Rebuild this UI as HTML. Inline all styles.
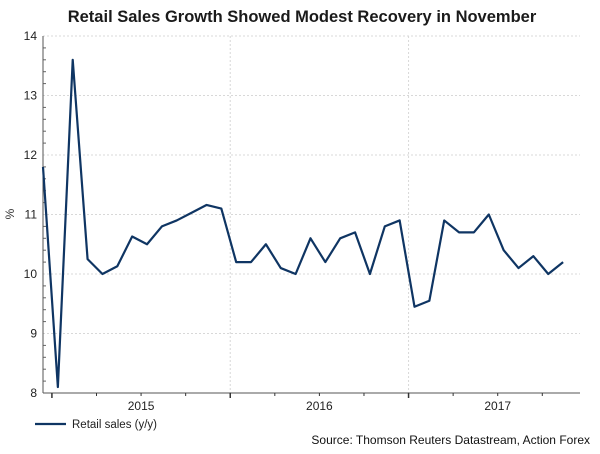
<!DOCTYPE html>
<html><head><meta charset="utf-8"><style>
body{margin:0;background:#fff;width:600px;height:449px;overflow:hidden;font-family:"Liberation Sans",Arial,sans-serif}
</style></head><body>
<svg width="600" height="449" viewBox="0 0 600 449" xmlns="http://www.w3.org/2000/svg">
<text x="302" y="22" text-anchor="middle" font-size="16.5" font-weight="bold" fill="#1a1a1a">Retail Sales Growth Showed Modest Recovery in November</text>
<g id="grid"></g>
<g id="axes"></g>
<text x="14" y="214" font-size="12" fill="#333" transform="rotate(-90 14 214)" text-anchor="middle">%</text>
<g id="series"></g>
<line x1="35" y1="424" x2="66" y2="424" stroke="#0f3563" stroke-width="2.2"/>
<text x="72" y="428" font-size="11.5" fill="#222">Retail sales (y/y)</text>
<text x="590" y="444" font-size="12" text-anchor="end" fill="#111">Source: Thomson Reuters Datastream, Action Forex</text>
</svg>
<script>
const values=[11.8,8.1,13.6,10.25,10.0,10.13,10.63,10.5,10.8,10.9,11.03,11.16,11.1,10.2,10.2,10.5,10.1,10.0,10.6,10.2,10.6,10.7,10.0,10.8,10.9,9.45,9.55,10.9,10.7,10.7,11.0,10.4,10.1,10.3,10.0,10.2];
const yTicks=[8,9,10,11,12,13,14];
const yearLabels=["2015","2016","2017"];
const NS="http://www.w3.org/2000/svg";
const x0=43,x1=580,dx=14.86,yTop=36,yBot=393,yMin=8,yMax=14;
const xs=i=>x0+i*dx;
const ys=v=>yBot-(v-yMin)/(yMax-yMin)*(yBot-yTop);
function mk(p,t,a){const e=document.createElementNS(NS,t);for(const k in a)e.setAttribute(k,a[k]);p.appendChild(e);return e;}
const grid=document.getElementById('grid'),axes=document.getElementById('axes'),ser=document.getElementById('series');
yTicks.forEach(v=>{
 const l=mk(grid,'line',{x1:x0,x2:x1,y1:ys(v),y2:ys(v),stroke:'#d8d8d8','stroke-dasharray':'2,2'});
 
 
 const t=mk(axes,'text',{x:x0-6,y:ys(v)+4,'text-anchor':'end','font-size':'12',fill:'#222'});
 t.textContent=v;
 
 
 if(v<yMax)for(let k=1;k<5;k++){const yy=ys(v+k*0.2);mk(axes,'line',{x1:x0,x2:x0+3,y1:yy,y2:yy,stroke:'#666'});}
});
mk(axes,'line',{x1:x0,x2:x0,y1:yTop,y2:yBot,stroke:'#555'});
mk(axes,'line',{x1:x0,x2:x1,y1:yBot,y2:yBot,stroke:'#555'});
for(let k=0;k<=12;k++){
 const i=0.6+3*k,x=xs(i);if(x>x1)break;
 const major=k%4===0;
 mk(axes,'line',{x1:x,x2:x,y1:yBot,y2:yBot+(major?5:3),stroke:'#333','stroke-width':major?1.5:1});
 if(major&&k>0){const g=mk(grid,'line',{x1:x,x2:x,y1:yTop,y2:yBot,stroke:'#d8d8d8','stroke-dasharray':'2,2'});
  
  }
}
yearLabels.forEach((y,j)=>{
 const t=mk(axes,'text',{x:xs(6.6+12*j),y:yBot+17,'text-anchor':'middle','font-size':'12',fill:'#222'});
 t.textContent=y;
 
 
});
const p=mk(ser,'polyline',{points:values.map((v,i)=>xs(i)+','+ys(v)).join(' '),fill:'none',stroke:'#0f3563','stroke-width':'2.2','stroke-linejoin':'round'});


</script>
</body></html>
